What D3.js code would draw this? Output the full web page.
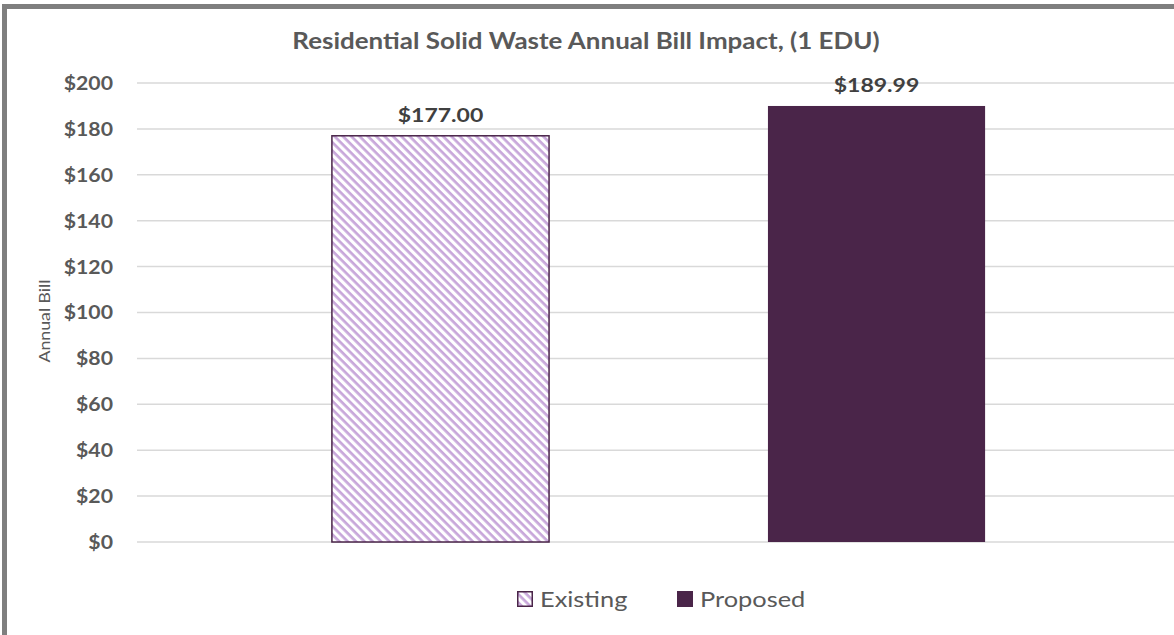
<!DOCTYPE html>
<html><head><meta charset="utf-8">
<script src="https://cdn.jsdelivr.net/npm/d3@7"></script>
<style>body{margin:0;background:#fff;} svg{display:block;}</style>
</head><body>
<svg id="chart" width="1174" height="635"></svg>
<script>
const categories = ["Existing", "Proposed"];
const values = [177.00, 189.99];
const labels = ["$177.00", "$189.99"];
const tickValues = [0, 20, 40, 60, 80, 100, 120, 140, 160, 180, 200];
const title = "Residential Solid Waste Annual Bill Impact, (1 EDU)";
const yTitle = "Annual Bill";

const svg = d3.select("#chart");
const W = 1174, H = 635;
const font = "Lato, 'Open Sans', sans-serif";
const dark = "#4a2549", hatch = "#c8a7da";
const STRETCH = 1.18;
function stretch(sel) {
  sel.each(function() {
    const len = this.getComputedTextLength();
    d3.select(this).attr("textLength", len * STRETCH).attr("lengthAdjust", "spacingAndGlyphs");
  });
}

const defs = svg.append("defs");
const pat = defs.append("pattern").attr("id", "hatch").attr("patternUnits", "userSpaceOnUse")
  .attr("width", 5.9).attr("height", 5.9).attr("patternTransform", "rotate(45)");
pat.append("rect").attr("width", 5.9).attr("height", 5.9).attr("fill", "#fff");
pat.append("rect").attr("x", 0).attr("y", 0).attr("width", 5.9).attr("height", 2.7).attr("fill", hatch);

svg.append("rect").attr("width", W).attr("height", H).attr("fill", "#fff");
// frame
svg.append("path").attr("d", "M4.5,640 V6.5 H1180").attr("fill", "none").attr("stroke", "#7f7f7f").attr("stroke-width", 5);

const y = d3.scaleLinear().domain([0, 200]).range([542, 83]);
const x = d3.scaleBand().domain(categories).range([137, 1180]).paddingInner(0.502).paddingOuter(0.447);

svg.append("g").selectAll("line").data(tickValues).join("line")
  .attr("x1", 137).attr("x2", W).attr("y1", d => y(d)).attr("y2", d => y(d))
  .attr("stroke", "#d9d9d9").attr("stroke-width", 1.5);

const yAxis = d3.axisLeft(y).tickValues(tickValues).tickFormat(d => "$" + d).tickSize(0).tickPadding(0);
const gy = svg.append("g").attr("transform", "translate(113,0)").call(yAxis);
gy.select(".domain").remove();
gy.selectAll("text").attr("font-family", font).attr("font-weight", "bold").attr("font-size", 18)
  .attr("fill", "#595959").attr("dy", "0.36em").call(stretch);

svg.append("text").attr("transform", "translate(50,321) rotate(-90)").attr("text-anchor", "middle")
  .attr("font-family", font).attr("font-size", 15).attr("fill", "#595959").text(yTitle).call(stretch);

svg.append("text").attr("x", 586).attr("y", 49).attr("text-anchor", "middle")
  .attr("font-family", font).attr("font-weight", "bold").attr("font-size", 22).attr("fill", "#595959")
  .text(title).call(stretch);

svg.append("g").selectAll("rect").data(categories).join("rect")
  .attr("x", d => x(d)).attr("width", x.bandwidth())
  .attr("y", (d, i) => y(values[i])).attr("height", (d, i) => y(0) - y(values[i]))
  .attr("fill", (d, i) => i === 0 ? "url(#hatch)" : dark)
  .attr("stroke", (d, i) => i === 0 ? dark : "none").attr("stroke-width", 1.5);

svg.append("g").selectAll("text").data(categories).join("text")
  .attr("x", d => x(d) + x.bandwidth() / 2).attr("y", (d, i) => y(values[i]) - 14)
  .attr("text-anchor", "middle").attr("font-family", font).attr("font-weight", "bold")
  .attr("font-size", 19.5).attr("fill", "#404040").text((d, i) => labels[i]).call(stretch);

// legend
const legX = [517, 677];
const leg = svg.append("g").selectAll("g").data(categories).join("g")
  .attr("transform", (d, i) => `translate(${legX[i]},591)`);
leg.append("rect").attr("x", (d, i) => i === 0 ? 0.75 : 0).attr("y", (d, i) => i === 0 ? 0.75 : 0)
  .attr("width", (d, i) => i === 0 ? 14.5 : 16).attr("height", (d, i) => i === 0 ? 14.5 : 16)
  .attr("fill", (d, i) => i === 0 ? "url(#hatch)" : dark)
  .attr("stroke", (d, i) => i === 0 ? dark : "none").attr("stroke-width", 1.5);
leg.append("text").attr("x", 23).attr("y", 16).attr("font-family", font).attr("font-size", 21.5)
  .attr("fill", "#595959").text(d => d).call(stretch);
</script>
</body></html>
